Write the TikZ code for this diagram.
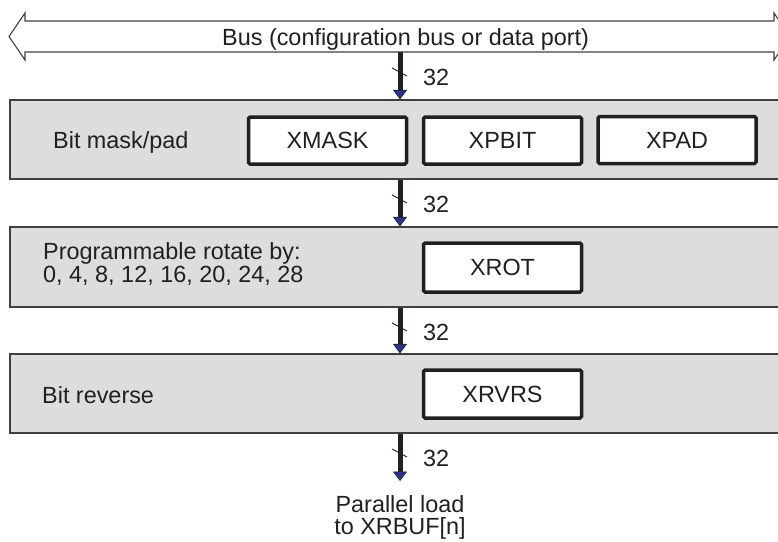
\documentclass[tikz,border=0pt]{standalone}
\usepackage{fontspec}
\setmainfont{Liberation Sans}
\usetikzlibrary{arrows.meta,calc}
\definecolor{panelgray}{HTML}{DCDDDF}
\definecolor{txt}{HTML}{231F20}
\definecolor{edge}{HTML}{404040}
\definecolor{arrowblue}{HTML}{2E3192}
\begin{document}
\begin{tikzpicture}[x=1pt,y=-1pt,
  every node/.style={text=txt,font=\fontsize{23.4}{22.5}\selectfont},
  panel/.style={draw=edge,line width=1.2pt,fill=panelgray,minimum width=780pt,inner sep=0pt},
  regbox/.style={draw=txt,line width=3.5pt,fill=white,rounded corners=1.5pt,minimum width=158pt,minimum height=47pt,inner sep=0pt},
  plain/.style={inner sep=0pt},
  buswire/.style={draw=txt,line width=5pt,-{Triangle[width=14pt,length=9.5pt,fill=arrowblue,line width=0.6pt]}},
  slash/.style={draw=txt,line width=0.9pt},
  widthlabel/.style={inner sep=0pt,anchor=base west}]
\useasboundingbox (0,0) rectangle (778,541);
% bus
\draw[draw=edge,line width=1.1pt,fill=white]
  (9,36.5) -- (25,13) -- (25,21) -- (774,21) -- (774,13) -- (790,36.5)
  -- (774,60) -- (774,52) -- (25,52) -- (25,60) -- cycle;
\node[plain,anchor=base west] (bus) at (222,45) {Bus (configuration bus or data port)};
\coordinate (busbot) at (400,52);
% panels
\node[panel,minimum height=79pt] (p1) at (400,139.5) {};
\node[panel,minimum height=80pt] (p2) at (400,267) {};
\node[panel,minimum height=79pt] (p3) at (400,393.5) {};
% panel labels
\node[plain,anchor=base west] (l1) at (53,148) {Bit mask/pad};
\node[plain,anchor=base west,align=left] (l2) at (43,282) {Programmable rotate by:\\0, 4, 8, 12, 16, 20, 24, 28};
\node[plain,anchor=base west] (l3) at (42,403) {Bit reverse};
% registers
\node[regbox] (xmask) at (327.5,140.5) {XMASK};
\node[regbox] (xpbit) at (502.5,140.5) {XPBIT};
\node[regbox] (xpad) at (677,140) {XPAD};
\node[regbox,minimum height=49pt] (xrot) at (502.5,267.5) {XROT};
\node[regbox,minimum height=48pt] (xrvrs) at (502.5,394) {XRVRS};
% output
\node[plain,anchor=north,align=center] (out) at (400,495) {Parallel load\\to XRBUF[n]};
\coordinate (outtop) at (400,481);
% connectors
\draw[buswire] (busbot) -- (busbot |- p1.north);
\draw[buswire] (p1.south) -- (p2.north);
\draw[buswire] (p2.south) -- (p3.north);
\draw[buswire] (p3.south) -- (outtop);
% width slashes and labels
\foreach \s/\n in {52/a,179/b,307/c,433/d}{
  \draw[slash] (392,\s+16) -- (407,\s+24);
  \node[widthlabel] (w\n) at (423,\s+33) {32};
}
\end{tikzpicture}
\end{document}
